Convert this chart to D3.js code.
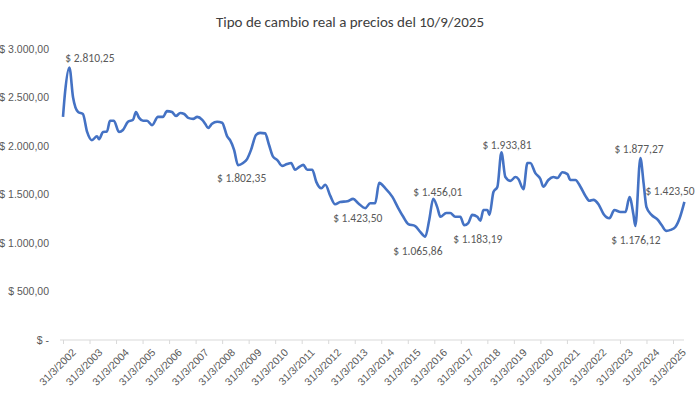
<!DOCTYPE html>
<html><head><meta charset="utf-8">
<script src="https://cdn.jsdelivr.net/npm/d3@7"></script>
<style>body{margin:0;background:#fff;font-family:Calibri,"Liberation Sans","Open Sans",sans-serif}</style>
</head><body><svg id="c" width="700" height="410"></svg>
<script>
const years = [2002.00,2002.08,2002.24,2002.38,2002.57,2002.75,2002.91,2003.09,2003.28,2003.36,2003.51,2003.66,2003.77,2003.92,2004.11,2004.26,2004.45,2004.64,2004.75,2004.87,2005.02,2005.17,2005.36,2005.58,2005.77,2005.92,2006.11,2006.26,2006.42,2006.57,2006.72,2006.91,2007.06,2007.25,2007.36,2007.47,2007.62,2007.81,2008.00,2008.19,2008.30,2008.45,2008.60,2008.79,2008.94,2009.09,2009.28,2009.43,2009.62,2009.77,2009.92,2010.08,2010.26,2010.45,2010.60,2010.75,2010.91,2011.06,2011.21,2011.40,2011.55,2011.74,2011.89,2012.08,2012.26,2012.45,2012.72,2012.94,2013.13,2013.40,2013.58,2013.77,2013.92,2014.15,2014.42,2014.64,2014.83,2015.02,2015.28,2015.47,2015.66,2015.81,2015.96,2016.11,2016.23,2016.45,2016.60,2016.79,2016.98,2017.13,2017.28,2017.43,2017.62,2017.74,2017.85,2018.00,2018.08,2018.23,2018.38,2018.53,2018.68,2018.87,2019.06,2019.17,2019.36,2019.51,2019.62,2019.81,2020.00,2020.11,2020.30,2020.49,2020.64,2020.83,2021.02,2021.13,2021.32,2021.51,2021.70,2021.85,2022.00,2022.19,2022.38,2022.60,2022.79,2023.02,2023.21,2023.36,2023.51,2023.58,2023.77,2023.89,2024.00,2024.19,2024.42,2024.57,2024.74,2024.91,2025.09,2025.25,2025.43];
const values = [2300,2560,2810,2500,2350,2330,2145,2060,2100,2070,2145,2150,2260,2260,2145,2165,2250,2270,2350,2290,2260,2260,2215,2300,2300,2360,2350,2310,2340,2330,2290,2280,2300,2270,2230,2185,2230,2250,2240,2100,2060,1960,1802,1825,1865,1960,2115,2135,2130,2010,1890,1855,1795,1815,1825,1755,1785,1805,1755,1755,1630,1565,1600,1485,1400,1423,1430,1455,1410,1360,1410,1410,1620,1565,1475,1360,1270,1195,1175,1115,1066,1240,1456,1370,1270,1310,1310,1270,1270,1183,1205,1290,1270,1230,1340,1340,1290,1525,1580,1934,1680,1640,1680,1660,1555,1825,1825,1720,1660,1580,1650,1680,1670,1730,1710,1650,1650,1580,1485,1435,1445,1400,1300,1255,1340,1320,1320,1475,1290,1176,1877,1620,1370,1290,1240,1185,1125,1135,1165,1255,1423.5];
const tickYears = d3.range(2002, 2026);
const tickLabels = tickYears.map(y => "31/3/" + y);
const yTicks = [0, 500, 1000, 1500, 2000, 2500, 3000];
const annYears = [2002.24, 2008.60, 2012.45, 2015.66, 2015.96, 2017.13, 2018.53, 2023.77, 2023.58, 2025.43];
const annValues = [2810.25, 1802.35, 1423.50, 1065.86, 1456.01, 1183.19, 1933.81, 1877.27, 1176.12, 1423.50];
const annOffsets = [[-4,-5],[-21,17],[-7,20],[-32,18],[-20,-3],[-11,18],[-19,-3],[-26,-5],[-24,18],[-39,-7]];

const svg = d3.select("#c");
const x = d3.scaleLinear().domain([2002, 2025]).range([63, 673]);
const y = d3.scaleLinear().domain([0, 3000]).range([340, 49]);
const fmt = v => "$ " + v.toLocaleString("de-DE", {minimumFractionDigits: 2, maximumFractionDigits: 2});
const grey = "#595959";

svg.append("text").attr("x", 350).attr("y", 27).attr("text-anchor", "middle")
  .attr("font-size", 15).attr("fill", "#404040").text("Tipo de cambio real a precios del 10/9/2025");

svg.append("line").attr("x1", 60).attr("x2", 684).attr("y1", y(0)).attr("y2", y(0))
  .attr("stroke", "#d9d9d9").attr("stroke-width", 1);

const ya = svg.append("g").attr("transform", "translate(52,0)")
  .call(d3.axisLeft(y).tickValues(yTicks).tickSize(0).tickFormat(v => v === 0 ? "$ -" : fmt(v)));
ya.select(".domain").remove();
ya.selectAll("text").attr("fill", grey).attr("font-size", 10.5).attr("font-family", "inherit");

const xa = svg.append("g").attr("transform", `translate(0,${y(0)})`)
  .call(d3.axisBottom(x).tickValues(tickYears).tickSize(4).tickFormat((d, i) => tickLabels[i]));
xa.select(".domain").remove();
xa.selectAll("line").attr("stroke", "#d9d9d9");
xa.selectAll("text").attr("fill", grey).attr("font-size", 10.5).attr("font-family", "inherit")
  .attr("text-anchor", "end").attr("transform", "translate(6,6) rotate(-45)").attr("dy", "0.3em");

const pts = years.map((t, i) => [t, values[i]]);
svg.append("path").datum(pts)
  .attr("d", d3.line().x(d => x(d[0])).y(d => y(d[1])).curve(d3.curveMonotoneX))
  .attr("fill", "none").attr("stroke", "#4472C4").attr("stroke-width", 2.6).attr("stroke-linejoin", "round");

svg.append("g").selectAll("text").data(annYears).join("text")
  .attr("x", (d, i) => x(d) + annOffsets[i][0])
  .attr("y", (d, i) => y(annValues[i]) + annOffsets[i][1])
  .attr("font-size", 11.5).attr("fill", grey)
  .text((d, i) => fmt(annValues[i]));
</script></body></html>
